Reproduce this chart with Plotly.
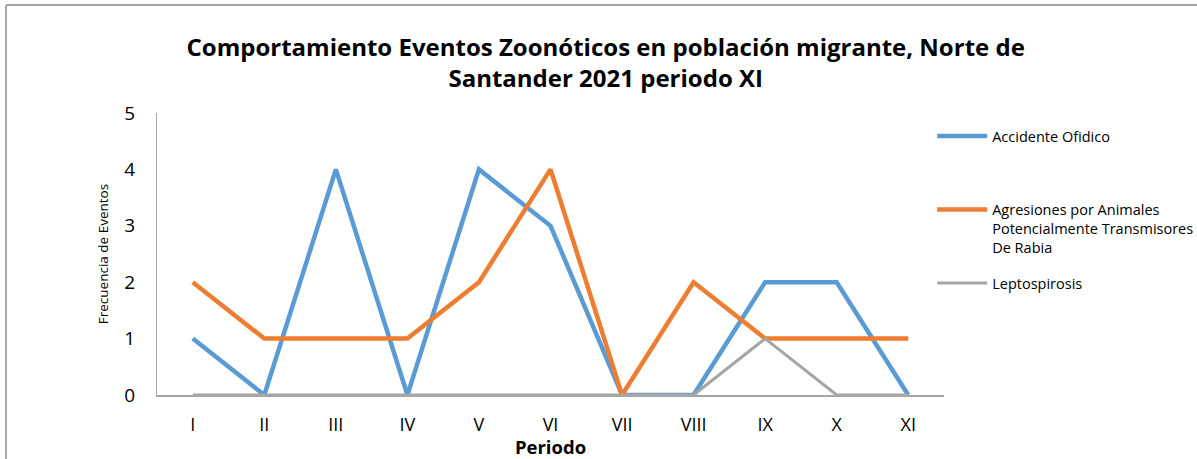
import plotly.graph_objects as go

periodos = ["I", "II", "III", "IV", "V", "VI", "VII", "VIII", "IX", "X", "XI"]
accidente_ofidico = [1, 0, 4, 0, 4, 3, 0, 0, 2, 2, 0]
agresiones_animales = [2, 1, 1, 1, 2, 4, 0, 2, 1, 1, 1]
leptospirosis = [0, 0, 0, 0, 0, 0, 0, 0, 1, 0, 0]

nombres = [
    "Accidente Ofidico<br>\u00a0<br>\u00a0",
    "Agresiones por Animales<br>Potencialmente Transmisores<br>De Rabia",
    "Leptospirosis",
]
colores = ["#5B9BD5", "#ED7D31", "#A5A5A5"]
anchos = [4.5, 4.5, 3]

FONT = "Open Sans, Noto Sans, sans-serif"

fig = go.Figure()

for i, serie in enumerate([accidente_ofidico, agresiones_animales, leptospirosis]):
    fig.add_trace(
        go.Scatter(
            x=periodos,
            y=serie,
            name=nombres[i],
            mode="lines",
            legendgroup=f"g{i}",
            line=dict(color=colores[i], width=anchos[i]),
        )
    )

# borde del área del gráfico (izquierda y arriba)
fig.add_shape(type="line", xref="paper", yref="paper",
              x0=-0.1919, x1=1.33, y0=1.383, y1=1.383,
              line=dict(color="#A6A6A6", width=2))
fig.add_shape(type="line", xref="paper", yref="paper",
              x0=-0.1919, x1=-0.1919, y0=1.383, y1=-0.3,
              line=dict(color="#A6A6A6", width=2))

fig.update_layout(
    width=1197,
    height=459,
    margin=dict(l=157, r=253, t=113, b=64, autoexpand=False),
    paper_bgcolor="white",
    plot_bgcolor="white",
    font=dict(family=FONT, color="black"),
    title=dict(
        text="<b>Comportamiento Eventos Zoonóticos en población migrante, Norte de<br>Santander 2021 periodo XI</b>",
        x=0.506,
        xanchor="center",
        y=0.878,
        yanchor="top",
        font=dict(size=24, family=FONT, color="black"),
    ),
    xaxis=dict(
        range=[-0.5, 10.5],
        showgrid=False,
        showline=True,
        linecolor="#A6A6A6",
        linewidth=1.5,
        ticks="",
        ticklabelstandoff=13,
        tickfont=dict(size=18),
        title=dict(text="<b>Periodo</b>", font=dict(size=18.5), standoff=1),
        fixedrange=True,
    ),
    yaxis=dict(
        range=[0, 5],
        dtick=1,
        showgrid=False,
        zeroline=False,
        showline=True,
        linecolor="#A6A6A6",
        linewidth=1,
        ticks="",
        ticklabelstandoff=17,
        tickfont=dict(size=19),
        title=dict(text="Frecuencia de Eventos", font=dict(size=13.5), standoff=12),
    ),
    legend=dict(
        x=0.985,
        xanchor="left",
        y=0.975,
        yanchor="top",
        valign="top",
        tracegroupgap=14,
        font=dict(size=14.5),
        itemwidth=50,
    ),
    showlegend=True,
)

# quitar el margen por defecto del <body> para que el gráfico quede en (0, 0)
fig.write_html(
    "out.html",
    config={"displayModeBar": False},
    post_script="document.body.style.margin='0';",
)
